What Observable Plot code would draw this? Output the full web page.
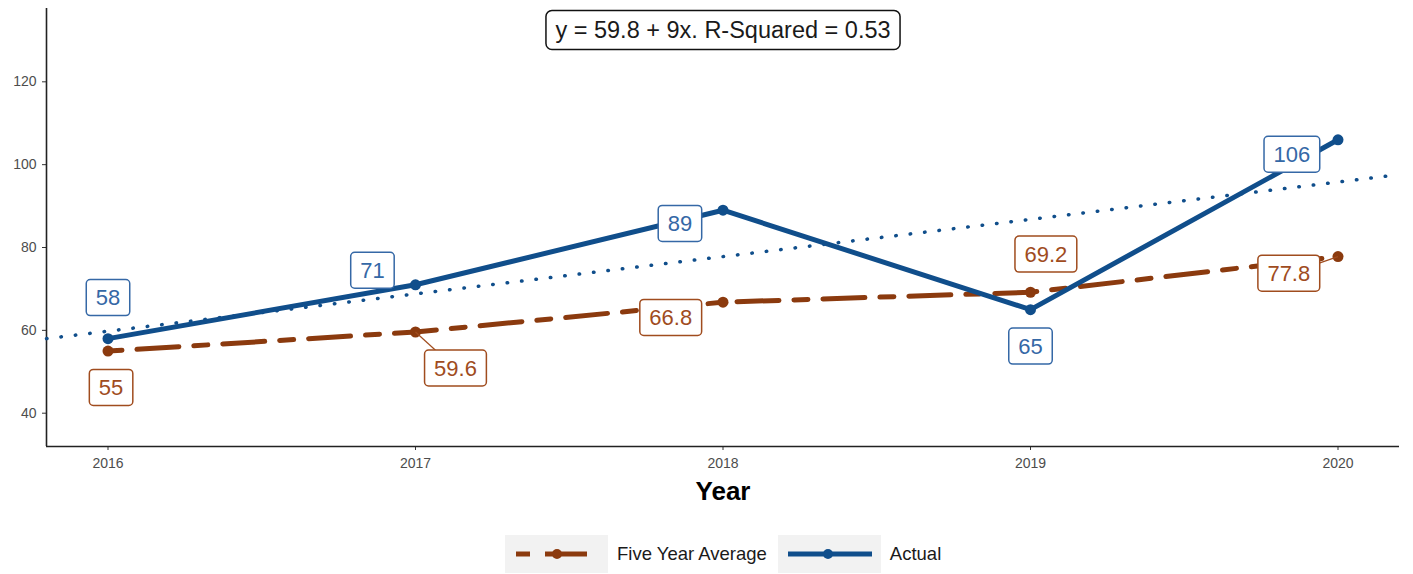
<!DOCTYPE html>
<html>
<head>
<meta charset="utf-8">
<script src="https://cdn.jsdelivr.net/npm/d3@7"></script>
<script src="https://cdn.jsdelivr.net/npm/@observablehq/plot@0.6"></script>
<style>
  html, body { margin: 0; padding: 0; background: #ffffff; }
  body { width: 1413px; height: 574px; overflow: hidden; font-family: "Liberation Sans", Arial, sans-serif; }
  #legend { position: relative; height: 49px; }
  #legend .row { position: absolute; left: 505px; top: 10px; display: flex; align-items: center; }
  #legend .key { display: block; }
  #legend .txt { font-size: 18.5px; color: #1a1a1a; margin: 0 11px 0 9px; white-space: nowrap; }
</style>
</head>
<body>
<div id="chart"></div>
<div id="legend"><div class="row"></div></div>
<script>
// ---- data ----
const years = [2016, 2017, 2018, 2019, 2020];
const actual = [58, 71, 89, 65, 106];
const fiveYearAverage = [55, 59.6, 66.8, 69.2, 77.8];
const seriesNames = ["Five Year Average", "Actual"];
const yTicks = [40, 60, 80, 100, 120];
// label anchor positions (data coordinates, as placed in the reference)
const actualLabelYear = [2016.0, 2016.86, 2017.86, 2019.0, 2019.85];
const actualLabelValue = [67.8, 74.4, 85.7, 56.1, 102.4];
const fiveYearLabelYear = [2016.01, 2017.13, 2017.83, 2019.05, 2019.84];
const fiveYearLabelValue = [46.1, 50.8, 63.0, 78.3, 73.7];
const fiveYearSegment = [false, true, false, false, true];

// ---- styles ----
const blue = "#104e8b", brown = "#8b3a0e";
const blueLbl = "#3568a6", brownLbl = "#a04c1e";
const xDomain = [2015.8, 2020.2];
const yDomain = [31.96, 137.7];

// ---- tables ----
const act = years.map((y, i) => ({year: y, value: actual[i], label: String(actual[i]),
  labelYear: actualLabelYear[i], labelValue: actualLabelValue[i]}));
const fya = years.map((y, i) => ({year: y, value: fiveYearAverage[i], label: String(fiveYearAverage[i]),
  labelYear: fiveYearLabelYear[i], labelValue: fiveYearLabelValue[i], seg: fiveYearSegment[i]}));

// regression of actual on (year - first year)
const xs = years.map(y => y - years[0]);
const mx = d3.mean(xs), my = d3.mean(actual);
const slope = d3.sum(xs, (x, i) => (x - mx) * (actual[i] - my)) / d3.sum(xs, x => (x - mx) ** 2);
const intercept = my - slope * mx;
const ssRes = d3.sum(xs, (x, i) => (actual[i] - (intercept + slope * x)) ** 2);
const ssTot = d3.sum(actual, v => (v - my) ** 2);
const r2 = 1 - ssRes / ssTot;
const eq = `y = ${+intercept.toFixed(1)} + ${+slope.toFixed(1)}x. R-Squared = ${r2.toFixed(2)}`;
const trend = xDomain.map(yr => ({year: yr, value: intercept + slope * (yr - years[0])}));

const plot = Plot.plot({
  width: 1413,
  height: 525,
  marginTop: 8,
  marginBottom: 79,
  marginLeft: 46,
  marginRight: 14,
  style: {fontFamily: "'Liberation Sans', Arial, sans-serif", background: "#ffffff"},
  x: {domain: xDomain},
  y: {domain: yDomain},
  marks: [
    Plot.axisY(yTicks, {tickSize: 4, tickPadding: 6, fontSize: 14, fill: "#4d4d4d", stroke: "#333", label: null}),
    Plot.axisX(years, {tickSize: 4, tickPadding: 8, fontSize: 14, fill: "#4d4d4d", stroke: "#333", tickFormat: "d", label: null}),
    Plot.ruleX([xDomain[0]], {stroke: "#222", strokeWidth: 1.6}),
    Plot.ruleY([yDomain[0]], {stroke: "#222", strokeWidth: 1.6}),
    Plot.line(trend, {x: "year", y: "value", stroke: blue, strokeWidth: 3.5, strokeDasharray: "0.5,14", strokeLinecap: "round"}),
    Plot.line(fya, {x: "year", y: "value", stroke: brown, strokeWidth: 5, strokeDasharray: "14,15,42,15"}),
    Plot.dot(fya, {x: "year", y: "value", r: 5.5, fill: brown}),
    Plot.line(act, {x: "year", y: "value", stroke: blue, strokeWidth: 5}),
    Plot.dot(act, {x: "year", y: "value", r: 5.5, fill: blue}),
    Plot.link(fya.filter(d => d.seg), {x1: "year", y1: "value", x2: "labelYear", y2: "labelValue", stroke: brownLbl, strokeWidth: 1.2}),
    Plot.text(act, {x: "labelYear", y: "labelValue", text: "label", fill: blueLbl, fontSize: 22}),
    Plot.text(fya, {x: "labelYear", y: "labelValue", text: "label", fill: brownLbl, fontSize: 22}),
    Plot.text([eq], {frameAnchor: "top", lineAnchor: "middle", dy: 22, fontSize: 23.5, fill: "#1a1a1a"}),
    Plot.text(["Year"], {frameAnchor: "bottom", lineAnchor: "middle", dy: 45, fontSize: 26, fontWeight: "bold", fill: "#000"})
  ]
});
document.getElementById("chart").append(plot);

const textGroups = plot.querySelectorAll('g[aria-label="text"]');
function boxes(group, stroke, padX, padY, rx) {
  if (!group) return;
  group.querySelectorAll("text").forEach(t => {
    const b = t.getBBox();
    const r = document.createElementNS("http://www.w3.org/2000/svg", "rect");
    r.setAttribute("x", b.x - padX);
    r.setAttribute("y", b.y - padY);
    r.setAttribute("width", b.width + 2 * padX);
    r.setAttribute("height", b.height + 2 * padY);
    r.setAttribute("rx", rx);
    r.setAttribute("fill", "#ffffff");
    r.setAttribute("stroke", stroke);
    r.setAttribute("stroke-width", 1.5);
    const tr = t.getAttribute("transform");
    if (tr) r.setAttribute("transform", tr);
    t.parentNode.insertBefore(r, t);
  });
}
boxes(textGroups[0], blueLbl, 9.5, 5.5, 4);
boxes(textGroups[1], brownLbl, 9.5, 5.5, 4);
boxes(textGroups[2], "#111", 9.5, 6.5, 6);

// ---- legend ----
const ns = "http://www.w3.org/2000/svg";
const row = document.querySelector("#legend .row");
const legendStyles = [
  {name: seriesNames[0], color: brown, dash: "14,15,42,15", x1: 11, x2: 96, cx: 52},
  {name: seriesNames[1], color: blue, dash: null, x1: 10, x2: 94, cx: 50}
];
legendStyles.forEach(s => {
  const svg = document.createElementNS(ns, "svg");
  svg.setAttribute("width", 103); svg.setAttribute("height", 38);
  svg.setAttribute("class", "key");
  const bg = document.createElementNS(ns, "rect");
  bg.setAttribute("width", 103); bg.setAttribute("height", 38); bg.setAttribute("fill", "#f2f2f2");
  svg.append(bg);
  const ln = document.createElementNS(ns, "line");
  ln.setAttribute("x1", s.x1); ln.setAttribute("x2", s.x2);
  ln.setAttribute("y1", 19); ln.setAttribute("y2", 19);
  ln.setAttribute("stroke", s.color); ln.setAttribute("stroke-width", 5);
  if (s.dash) ln.setAttribute("stroke-dasharray", s.dash);
  svg.append(ln);
  const c = document.createElementNS(ns, "circle");
  c.setAttribute("cx", s.cx); c.setAttribute("cy", 19); c.setAttribute("r", 5); c.setAttribute("fill", s.color);
  svg.append(c);
  row.append(svg);
  const sp = document.createElement("span");
  sp.className = "txt"; sp.textContent = s.name;
  row.append(sp);
});
</script>
</body>
</html>
